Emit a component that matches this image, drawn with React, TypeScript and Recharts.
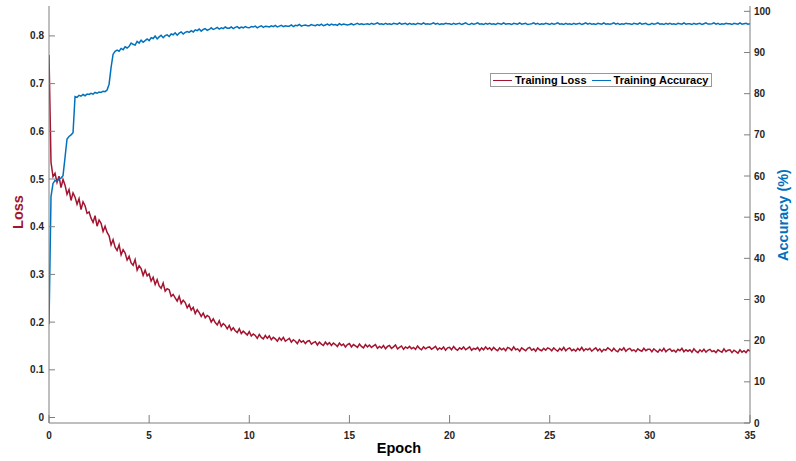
import React from 'react';
import { LineChart, Line, XAxis, YAxis, Legend } from 'recharts';

// one value every 0.1 epoch, 0 .. 35
const trainingLoss: number[] = [
  0.760, 0.535, 0.505, 0.512, 0.493, 0.506, 0.482, 0.499, 0.487, 0.468,
  0.478, 0.455, 0.471, 0.462, 0.447, 0.459, 0.436, 0.452, 0.444, 0.428,
  0.431, 0.418, 0.409, 0.423, 0.401, 0.414, 0.407, 0.390, 0.401, 0.388,
  0.381, 0.362, 0.373, 0.357, 0.350, 0.362, 0.341, 0.352, 0.345, 0.330,
  0.338, 0.324, 0.319, 0.331, 0.309, 0.318, 0.312, 0.298, 0.309, 0.297,
  0.301, 0.286, 0.294, 0.279, 0.289, 0.276, 0.271, 0.282, 0.265, 0.270,
  0.268, 0.254, 0.258, 0.251, 0.244, 0.254, 0.239, 0.246, 0.241, 0.230,
  0.237, 0.225, 0.231, 0.218, 0.226, 0.220, 0.212, 0.219, 0.209, 0.214,
  0.211, 0.200, 0.207, 0.199, 0.194, 0.203, 0.191, 0.197, 0.193, 0.186,
  0.193, 0.183, 0.188, 0.182, 0.178, 0.186, 0.176, 0.181, 0.177, 0.173,
  0.180, 0.171, 0.175, 0.172, 0.166, 0.174, 0.168, 0.165, 0.172, 0.166,
  0.171, 0.163, 0.168, 0.165, 0.160, 0.167, 0.162, 0.168, 0.160, 0.163,
  0.166, 0.158, 0.163, 0.160, 0.155, 0.163, 0.158, 0.161, 0.155, 0.160,
  0.161, 0.154, 0.157, 0.159, 0.152, 0.158, 0.154, 0.151, 0.158, 0.153,
  0.157, 0.151, 0.156, 0.153, 0.149, 0.156, 0.151, 0.154, 0.148, 0.153,
  0.155, 0.148, 0.153, 0.150, 0.147, 0.154, 0.149, 0.146, 0.153, 0.148,
  0.152, 0.147, 0.150, 0.153, 0.145, 0.149, 0.146, 0.151, 0.144, 0.149,
  0.151, 0.145, 0.148, 0.152, 0.144, 0.147, 0.150, 0.143, 0.148, 0.145,
  0.149, 0.144, 0.147, 0.143, 0.150, 0.145, 0.142, 0.148, 0.144, 0.147,
  0.148, 0.143, 0.146, 0.149, 0.142, 0.146, 0.143, 0.148, 0.141, 0.146,
  0.147, 0.142, 0.149, 0.144, 0.141, 0.146, 0.143, 0.148, 0.142, 0.145,
  0.148, 0.141, 0.145, 0.143, 0.147, 0.140, 0.146, 0.142, 0.148, 0.143,
  0.146, 0.141, 0.147, 0.143, 0.140, 0.146, 0.142, 0.145, 0.140, 0.147,
  0.145, 0.141, 0.148, 0.142, 0.144, 0.139, 0.146, 0.143, 0.140, 0.145,
  0.147, 0.141, 0.144, 0.139, 0.146, 0.142, 0.140, 0.145, 0.141, 0.146,
  0.144, 0.140, 0.146, 0.142, 0.139, 0.145, 0.141, 0.147, 0.140, 0.144,
  0.146, 0.140, 0.143, 0.139, 0.145, 0.141, 0.147, 0.140, 0.144, 0.142,
  0.145, 0.139, 0.143, 0.146, 0.140, 0.144, 0.138, 0.143, 0.141, 0.146,
  0.143, 0.139, 0.145, 0.140, 0.138, 0.144, 0.141, 0.146, 0.139, 0.143,
  0.145, 0.140, 0.142, 0.138, 0.144, 0.141, 0.139, 0.145, 0.140, 0.143,
  0.143, 0.138, 0.144, 0.140, 0.137, 0.143, 0.139, 0.145, 0.138, 0.142,
  0.144, 0.139, 0.141, 0.137, 0.143, 0.140, 0.145, 0.138, 0.142, 0.139,
  0.142, 0.137, 0.144, 0.139, 0.136, 0.142, 0.138, 0.143, 0.137, 0.141,
  0.143, 0.138, 0.140, 0.136, 0.142, 0.139, 0.137, 0.144, 0.138, 0.141,
  0.142, 0.136, 0.141, 0.138, 0.135, 0.142, 0.137, 0.140, 0.136, 0.142,
  0.139,
];

const trainingAccuracy: number[] = [
  24.0, 55.0, 58.2, 58.9, 58.7, 59.3, 59.5, 60.1, 64.5, 69.0,
  69.6, 70.0, 70.5, 79.3, 79.1, 79.6, 79.4, 79.8, 79.5, 79.9,
  79.8, 80.1, 79.9, 80.3, 80.1, 80.4, 80.3, 80.6, 80.5, 80.9,
  82.3, 86.4, 89.6, 90.3, 90.6, 90.3, 91.0, 90.7, 91.4, 91.1,
  91.5, 92.3, 92.0, 91.8, 92.7, 92.3, 93.0, 92.5, 92.9, 93.3,
  92.9, 93.6, 93.4, 94.0, 93.3, 93.8, 94.2, 93.6, 94.1, 94.3,
  93.9, 94.5, 94.3, 94.8, 94.2, 94.7, 95.0, 94.5, 94.9, 95.1,
  94.9, 95.3, 95.0, 95.5, 95.3, 95.7, 95.2, 95.6, 95.8, 95.4,
  95.6, 96.0, 95.6, 95.8, 96.1, 95.7, 96.0, 95.8, 96.2, 95.9,
  95.9, 96.2, 95.8, 96.1, 96.3, 95.9, 96.2, 96.0, 96.3, 96.1,
  96.0, 96.3, 96.2, 96.4, 96.0, 96.3, 96.5, 96.1, 96.4, 96.3,
  96.2, 96.5, 96.3, 96.6, 96.2, 96.4, 96.6, 96.3, 96.5, 96.4,
  96.4, 96.7, 96.3, 96.6, 96.5, 96.8, 96.4, 96.6, 96.7, 96.5,
  96.5, 96.8, 96.6, 96.5, 96.8, 96.6, 96.9, 96.5, 96.7, 96.9,
  96.6, 96.9, 96.7, 96.8, 96.6, 97.0, 96.7, 96.9, 96.8, 96.7,
  96.8, 97.0, 96.7, 96.9, 97.1, 96.8, 97.0, 96.8, 96.9, 97.0,
  96.8, 97.1, 96.9, 97.0, 97.2, 96.9, 97.0, 96.8, 97.1, 96.9,
  97.0, 96.8, 97.1, 97.0, 96.9, 97.2, 96.9, 97.0, 97.1, 96.8,
  97.1, 96.9, 97.0, 96.8, 97.1, 97.0, 96.9, 97.2, 96.9, 97.0,
  96.9, 97.0, 97.2, 96.9, 97.1, 96.8, 97.0, 96.9, 97.1, 97.0,
  97.0, 96.8, 97.1, 96.9, 97.0, 97.1, 96.8, 97.0, 97.2, 96.9,
  96.8, 97.1, 96.9, 97.0, 97.2, 96.9, 97.0, 96.8, 97.1, 96.9,
  97.1, 96.9, 97.0, 96.8, 97.1, 97.0, 96.9, 97.2, 96.9, 97.0,
  97.0, 96.8, 97.1, 97.0, 96.9, 97.2, 96.9, 97.0, 97.1, 96.8,
  96.9, 97.0, 97.2, 96.9, 97.1, 96.8, 97.0, 96.9, 97.1, 97.0,
  96.8, 97.1, 96.9, 97.0, 97.2, 96.9, 97.0, 96.8, 97.1, 96.9,
  97.0, 96.8, 97.1, 96.9, 97.0, 97.1, 96.8, 97.0, 97.2, 96.9,
  97.1, 96.9, 97.0, 96.8, 97.1, 97.0, 96.9, 97.2, 96.9, 97.0,
  96.9, 97.0, 97.2, 96.9, 97.1, 96.8, 97.0, 96.9, 97.1, 97.0,
  97.0, 96.8, 97.1, 97.0, 96.9, 97.2, 96.9, 97.0, 97.1, 96.8,
  96.8, 97.1, 96.9, 97.0, 97.2, 96.9, 97.0, 96.8, 97.1, 96.9,
  97.1, 96.9, 97.0, 96.8, 97.1, 97.0, 96.9, 97.2, 96.9, 97.0,
  97.0, 96.8, 97.1, 96.9, 97.0, 97.1, 96.8, 97.0, 97.2, 96.9,
  96.9, 97.0, 97.2, 96.9, 97.1, 96.8, 97.0, 96.9, 97.1, 97.0,
  97.0, 96.8, 97.1, 97.0, 96.9, 97.2, 96.9, 97.0, 97.1, 96.9,
  97.0,
];

const epochTicks = [0, 5, 10, 15, 20, 25, 30, 35];
const lossTicks = [0, 0.1, 0.2, 0.3, 0.4, 0.5, 0.6, 0.7, 0.8];
const accuracyTicks = [0, 10, 20, 30, 40, 50, 60, 70, 80, 90, 100];

const LOSS_COLOR = '#A2142F';
const ACC_COLOR = '#0072BD';
const AXIS_COLOR = '#7f7f7f';
const FONT = '"Liberation Sans", Arial, sans-serif';

const data = trainingLoss.map((loss, i) => ({
  epoch: i / 10,
  loss,
  accuracy: trainingAccuracy[i],
}));

// MATLAB style: ticks point into the plot, labels outside
const LeftTick = (props: any) => {
  const { x, y, payload } = props;
  return (
    <g>
      <line x1={x} x2={x + 6} y1={y} y2={y} stroke={AXIS_COLOR} />
      <text x={x - 5} y={y} textAnchor="end" dominantBaseline="central"
        fontSize={10} fontWeight="bold" fill="#262626" fontFamily={FONT}>
        {payload.value}
      </text>
    </g>
  );
};

const RightTick = (props: any) => {
  const { x, y, payload } = props;
  return (
    <g>
      <line x1={x - 6} x2={x} y1={y} y2={y} stroke={AXIS_COLOR} />
      <text x={x + 4} y={y} textAnchor="start" dominantBaseline="central"
        fontSize={10} fontWeight="bold" fill="#262626" fontFamily={FONT}>
        {payload.value}
      </text>
    </g>
  );
};

const BottomTick = (props: any) => {
  const { x, y, payload } = props;
  return (
    <g>
      <line x1={x} x2={x} y1={y - 8} y2={y} stroke={AXIS_COLOR} />
      <text x={x} y={y + 12} textAnchor="middle" dominantBaseline="central"
        fontSize={10} fontWeight="bold" fill="#262626" fontFamily={FONT}>
        {payload.value}
      </text>
    </g>
  );
};

const TopTick = (props: any) => {
  const { x, y } = props;
  return <line x1={x} x2={x} y1={y} y2={y + 8} stroke={AXIS_COLOR} />;
};

const LegendBox = () => (
  <div
    style={{
      display: 'flex',
      alignItems: 'center',
      height: 12,
      border: '1px solid #999',
      background: '#fff',
      fontFamily: FONT,
      fontSize: 11,
      fontWeight: 'bold',
      color: '#000',
      lineHeight: '12px',
      whiteSpace: 'nowrap',
    }}
  >
    <span style={{ width: 19, height: 1, background: LOSS_COLOR, marginLeft: 2, marginRight: 3 }} />
    <span>Training Loss</span>
    <span style={{ width: 19, height: 1, background: ACC_COLOR, marginLeft: 5, marginRight: 3 }} />
    <span>Training Accuracy</span>
  </div>
);

const axisLabel = (text: string, x: number, y: number, color: string, angle: number) => () => (
  <text x={x} y={y} textAnchor="middle" dominantBaseline="central"
    transform={angle ? `rotate(${angle} ${x} ${y})` : undefined}
    fontSize={14.5} fontWeight="bold" fill={color} fontFamily={FONT}>
    {text}
  </text>
);

export default function App() {
  return (
    <div style={{ position: 'absolute', left: 0, top: 0, width: 796, height: 461, background: '#fff' }}>
      <LineChart width={796} height={461} data={data} margin={{ top: 6, right: 0, bottom: 0, left: 0 }}>
        <XAxis
          dataKey="epoch"
          type="number"
          domain={[0, 35]}
          ticks={epochTicks}
          height={38}
          stroke={AXIS_COLOR}
          tickLine={false}
          tickSize={0}
          tickMargin={0}
          tick={<BottomTick />}
          label={{ content: axisLabel('Epoch', 399, 448, '#000', 0) }}
          allowDataOverflow
        />
        <XAxis
          xAxisId="top"
          orientation="top"
          dataKey="epoch"
          type="number"
          domain={[0, 35]}
          ticks={epochTicks}
          height={0}
          stroke={AXIS_COLOR}
          tickLine={false}
          tickSize={0}
          tickMargin={0}
          tick={<TopTick />}
        />
        <YAxis
          yAxisId="loss"
          orientation="left"
          width={49}
          type="number"
          domain={[-0.0115, 0.8627]}
          ticks={lossTicks}
          allowDataOverflow
          stroke={AXIS_COLOR}
          tickLine={false}
          tickSize={0}
          tickMargin={0}
          tick={<LeftTick />}
          label={{ content: axisLabel('Loss', 18, 212, LOSS_COLOR, -90) }}
        />
        <YAxis
          yAxisId="acc"
          orientation="right"
          width={46}
          type="number"
          domain={[0, 101.3]}
          ticks={accuracyTicks}
          allowDataOverflow
          stroke={AXIS_COLOR}
          tickLine={false}
          tickSize={0}
          tickMargin={0}
          tick={<RightTick />}
          label={{ content: axisLabel('Accuracy (%)', 782.5, 215, ACC_COLOR, -90) }}
        />
        <Legend
          layout="vertical"
          align="center"
          verticalAlign="middle"
          content={<LegendBox />}
          wrapperStyle={{ position: 'absolute', left: 490, top: 73, width: 222, height: 14 }}
        />
        <Line
          yAxisId="loss"
          type="linear"
          dataKey="loss"
          name="Training Loss"
          stroke={LOSS_COLOR}
          strokeWidth={1.5}
          dot={false}
          activeDot={false}
          isAnimationActive={false}
        />
        <Line
          yAxisId="acc"
          type="linear"
          dataKey="accuracy"
          name="Training Accuracy"
          stroke={ACC_COLOR}
          strokeWidth={1.5}
          dot={false}
          activeDot={false}
          isAnimationActive={false}
        />
      </LineChart>
    </div>
  );
}
